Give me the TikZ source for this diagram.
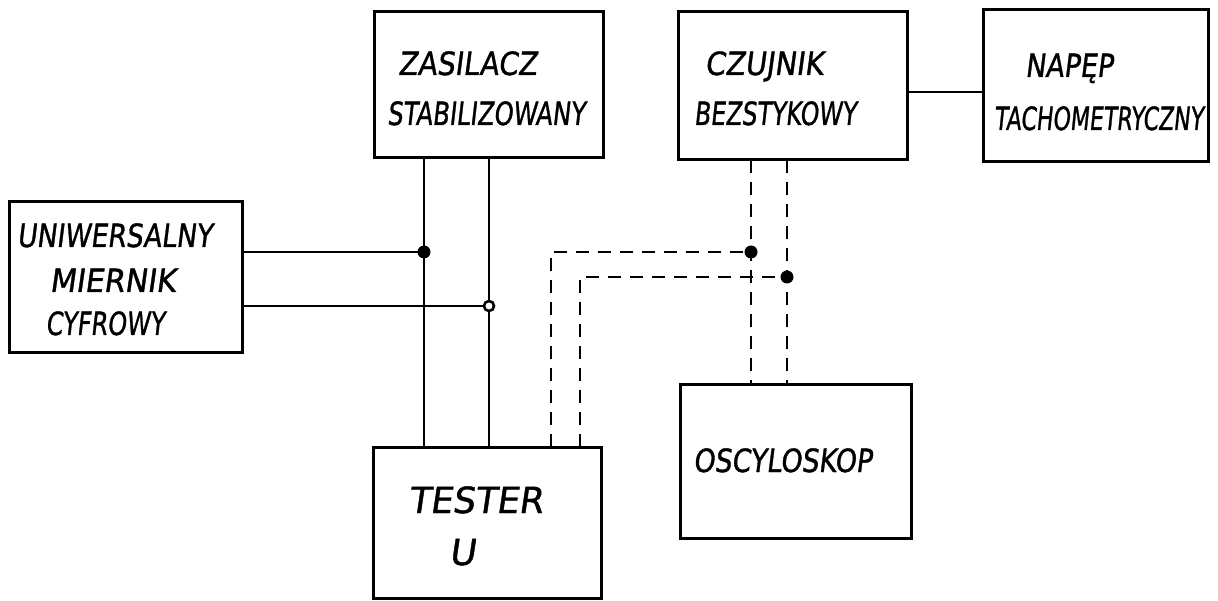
\documentclass[tikz,border=0pt]{standalone}
\usepackage{fontspec}
\newfontfamily\hand{DejaVu Sans}[FakeSlant=0.15,FakeBold=1.2]
\begin{document}
\begin{tikzpicture}[x=1pt,y=-1pt,
  box/.style={draw,line width=3pt,rectangle,inner sep=0pt,outer sep=0pt},
  lab/.style={anchor=base,inner sep=0pt,font=\hand\fontsize{32}{34}\selectfont},
  biglab/.style={anchor=base,inner sep=0pt,font=\hand\fontsize{36}{38}\selectfont},
  wire/.style={line width=2.6pt},
  dwire/.style={line width=2.6pt,dash pattern=on 13pt off 9pt},
  jdot/.style={circle,fill,inner sep=0pt,minimum width=11pt,minimum height=13pt},
  jring/.style={circle,draw,line width=2.6pt,fill=white,inner sep=0pt,minimum size=10pt}]
\useasboundingbox (0,0) rectangle (1218,601);
% boxes
\node[box,minimum width=229pt,minimum height=146pt] (zas) at (488.5,85) {};
\node[box,minimum width=229pt,minimum height=148pt] (czu) at (792.5,86) {};
\node[box,minimum width=225pt,minimum height=152pt] (nap) at (1095.5,86) {};
\node[box,minimum width=233pt,minimum height=151pt] (uni) at (125.5,277.5) {};
\node[box,minimum width=228pt,minimum height=151pt] (tes) at (487,522.5) {};
\node[box,minimum width=231pt,minimum height=153pt] (osc) at (795.5,461.5) {};
% labels
\node[lab] (t1) at (467.5,75) {\scalebox{0.88}[1]{ZASILACZ}};
\node[lab] (t2) at (486,125) {\scalebox{0.76}[1]{STABILIZOWANY}};
\node[lab] (t3) at (764,75) {\scalebox{0.90}[1]{CZUJNIK}};
\node[lab] (t4) at (775,125) {\scalebox{0.74}[1]{BEZSTYKOWY}};
\node[lab] (t5) at (1069,77) {\scalebox{0.84}[1]{NAPĘP}};
\node[lab] (t6) at (1098.5,130) {\scalebox{0.69}[1]{TACHOMETRYCZNY}};
\node[lab] (t7) at (114.5,247) {\scalebox{0.83}[1]{UNIWERSALNY}};
\node[lab] (t8) at (112.5,292) {\scalebox{0.94}[1]{MIERNIK}};
\node[lab] (t9) at (105,335) {\scalebox{0.75}[1]{CYFROWY}};
\node[biglab] (t10) at (475.5,513) {\scalebox{0.98}[1]{TESTER}};
\node[biglab] (t11) at (462,565) {U};
\node[lab] (t12) at (782.5,472) {\scalebox{0.84}[1]{OSCYLOSKOP}};
% junction coordinates
\coordinate (j1) at (424,252);
\coordinate (j2) at (489,306);
\coordinate (j3) at (751,252);
\coordinate (j4) at (787,277);
\coordinate (c1) at (551,252);
\coordinate (c2) at (580,277);
% solid wires
\draw[wire] (zas.south -| j1) -- (tes.north -| j1);
\draw[wire] (zas.south -| j2) -- (tes.north -| j2);
\draw[wire] (uni.east |- j1) -- (j1);
\draw[wire] (uni.east |- j2) -- (j2);
\draw[wire] (czu.east |- 0,92) -- (nap.west |- 0,92);
% dashed wires
\draw[dwire] (czu.south -| j3) -- (osc.north -| j3);
\draw[dwire] (czu.south -| j4) -- (osc.north -| j4);
\draw[dwire] (tes.north -| c1) -- (c1) -- (j3);
\draw[dwire] (tes.north -| c2) -- (c2) -- (j4);
% junctions
\node[jdot] (d1) at (j1) {};
\node[jring] (d2) at (j2) {};
\node[jdot] (d3) at (j3) {};
\node[jdot] (d4) at (j4) {};
\end{tikzpicture}
\end{document}
